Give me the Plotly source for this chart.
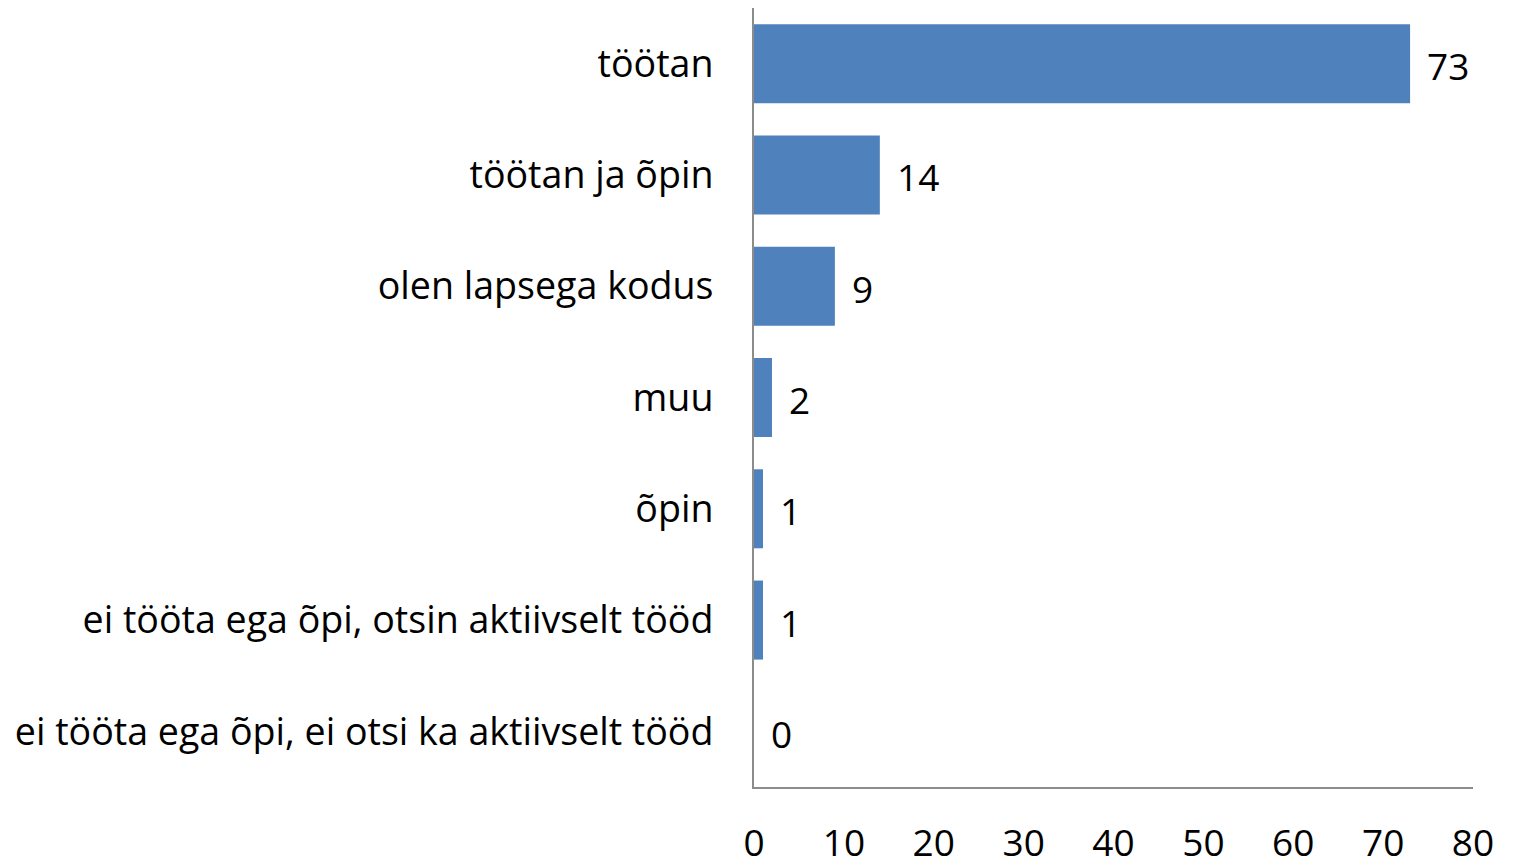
import plotly.graph_objects as go

# categories, top to bottom as in the picture
categories = [
    "töötan",
    "töötan ja õpin",
    "olen lapsega kodus",
    "muu",
    "õpin",
    "ei tööta ega õpi, otsin aktiivselt tööd",
    "ei tööta ega õpi, ei otsi ka aktiivselt tööd",
]
values = [73, 14, 9, 2, 1, 1, 0]
x_ticks = [0, 10, 20, 30, 40, 50, 60, 70, 80]

font_name = "Open Sans"
font_size = 37
bar_color = "#4F81BD"

bars = go.Bar(
    x=values,
    y=categories,
    orientation="h",
    marker=dict(color=bar_color, line=dict(width=0)),
    hoverinfo="skip",
)

fig = go.Figure(data=[bars])

# value labels next to each bar
for cat, val in zip(categories, values):
    fig.add_annotation(
        x=val, y=cat, text=str(val), showarrow=False,
        xanchor="left", xshift=15, yshift=-2,
        font=dict(family=font_name, size=font_size, color="black"),
    )

# page body adds 8px, margins account for that
fig.update_layout(
    width=1514, height=862,
    margin=dict(l=746, r=49, t=0, b=83, autoexpand=False),
    paper_bgcolor="white", plot_bgcolor="white",
    bargap=0.29,
    showlegend=False,
    font=dict(family=font_name, size=font_size, color="black"),
    xaxis=dict(
        range=[0, 80], tickvals=x_ticks, showgrid=False, zeroline=False,
        showline=True, linecolor="#8c8c8c", linewidth=2,
        ticks="", ticklabelstandoff=23, automargin=False,
        tickfont=dict(family=font_name, size=font_size, color="black"),
    ),
    yaxis=dict(
        categoryorder="array", categoryarray=categories[::-1],
        showgrid=False, zeroline=False,
        showline=True, linecolor="#8c8c8c", linewidth=2,
        ticks="", ticklabelstandoff=31, automargin=False,
        tickfont=dict(family=font_name, size=37.6, color="black"),
    ),
)

fig.write_html("out.html")
